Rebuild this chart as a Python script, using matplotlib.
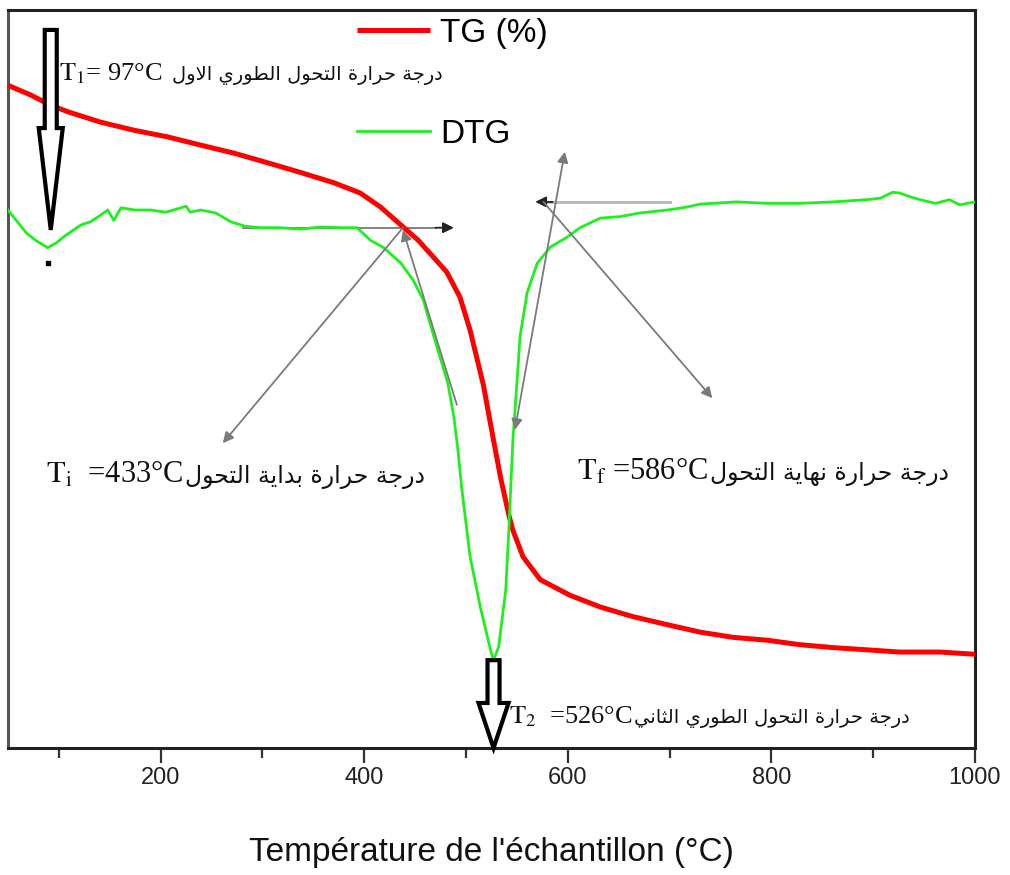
import numpy as np
import matplotlib
matplotlib.use("Agg")
import matplotlib.pyplot as plt
from matplotlib.patches import FancyArrow

plt.rcParams['mathtext.fontset'] = 'stix'

# ---- data (T in °C, curves on a 0-100 plot scale) ----
t_tg = [50, 72, 92, 109, 141, 174, 207, 239, 272, 305, 337, 370, 396, 416, 439, 453, 468, 481, 494, 504,
        517, 527, 534, 542, 546, 556, 573, 602, 632, 664, 698, 730, 762, 796, 828, 861, 894, 926, 966, 1000]
tg = [89.8, 88.5, 87.1, 86.2, 84.8, 83.7, 82.8, 81.7, 80.6, 79.3, 78.0, 76.6, 75.2, 73.3, 70.5, 68.8, 66.5,
      64.5, 61.1, 56.6, 49.2, 41.7, 36.6, 31.6, 29.5, 25.9, 22.8, 20.7, 19.1, 17.8, 16.7, 15.7, 15.0, 14.6,
      14.0, 13.6, 13.3, 13.0, 13.0, 12.7]

t_dtg = [50, 58, 68, 77, 89, 97, 107, 122, 131, 141, 148, 154, 161, 175, 190, 205, 225, 229, 239, 254,
         269, 283, 298, 318, 337, 357, 377, 393, 406, 419, 436, 448, 458, 470, 482, 488, 492, 496, 504, 514,
         524, 527, 532, 539, 542, 546, 550, 553, 560, 570, 583, 599, 612, 632, 651, 671, 698, 717, 730, 766,
         796, 828, 861, 894, 907, 919, 926, 936, 946, 961, 975, 985, 1000]
dtg = [72.9, 71.5, 69.8, 68.8, 67.8, 68.4, 69.5, 70.9, 71.3, 72.2, 72.9, 71.5, 73.2, 72.9, 72.9, 72.6, 73.4,
       72.6, 72.9, 72.5, 71.3, 70.7, 70.5, 70.5, 70.3, 70.6, 70.5, 70.5, 68.8, 67.8, 65.7, 63.4, 60.7, 55.0,
       49.5, 44.9, 40.4, 34.9, 25.9, 19.1, 13.3, 11.9, 13.7, 21.4, 29.5, 41.7, 49.5, 55.7, 61.7, 65.7, 67.9,
       69.2, 70.5, 71.8, 72.0, 72.5, 72.9, 73.3, 73.7, 74.0, 73.8, 73.8, 74.0, 74.3, 74.5, 75.3, 75.2, 74.7,
       74.3, 73.8, 74.3, 73.6, 74.0]

xticks = [200, 400, 600, 800, 1000]
xminor = [100, 300, 500, 700, 900]

T1, Ti, Tf, T2 = 97, 433, 586, 526

# ---- minimal arabic shaping (matplotlib has no bidi / joining) ----
FORMS = {  # isolated, final, initial, medial
    'ا': ('\uFE8D', '\uFE8E', None, None),
    'ب': ('\uFE8F', '\uFE90', '\uFE91', '\uFE92'),
    'ة': ('\uFE93', '\uFE94', None, None),
    'ت': ('\uFE95', '\uFE96', '\uFE97', '\uFE98'),
    'ث': ('\uFE99', '\uFE9A', '\uFE9B', '\uFE9C'),
    'ج': ('\uFE9D', '\uFE9E', '\uFE9F', '\uFEA0'),
    'ح': ('\uFEA1', '\uFEA2', '\uFEA3', '\uFEA4'),
    'د': ('\uFEA9', '\uFEAA', None, None),
    'ر': ('\uFEAD', '\uFEAE', None, None),
    'ط': ('\uFEC1', '\uFEC2', '\uFEC3', '\uFEC4'),
    'ل': ('\uFEDD', '\uFEDE', '\uFEDF', '\uFEE0'),
    'ن': ('\uFEE5', '\uFEE6', '\uFEE7', '\uFEE8'),
    'ه': ('\uFEE9', '\uFEEA', '\uFEEB', '\uFEEC'),
    'و': ('\uFEED', '\uFEEE', None, None),
    'ي': ('\uFEF1', '\uFEF2', '\uFEF3', '\uFEF4'),
    'لا': ('\uFEFB', '\uFEFC', None, None),
}


def shape_ar(s):
    toks, i = [], 0
    while i < len(s):
        if s[i] == 'ل' and i + 1 < len(s) and s[i + 1] == 'ا':
            toks.append('لا'); i += 2
        else:
            toks.append(s[i]); i += 1
    out = []
    for k, t in enumerate(toks):
        if t not in FORMS:
            out.append(t); continue
        prev = toks[k - 1] if k > 0 else None
        nxt = toks[k + 1] if k + 1 < len(toks) else None
        jp = prev in FORMS and FORMS[prev][2] is not None
        jn = nxt in FORMS and FORMS[t][2] is not None
        iso, fin, ini, med = FORMS[t]
        out.append(med if (jp and jn) else fin if jp else ini if jn else iso)
    return ''.join(out)[::-1]


fig = plt.figure(figsize=(10.1, 8.75), dpi=100)
ax = fig.add_axes([8 / 1010, 1 - 748 / 875, 967 / 1010, 738 / 875])

ax.plot(t_tg, tg, color="#ff0000", lw=3.6, solid_capstyle="butt", label="TG (%)", zorder=3)
ax.plot(t_dtg, dtg, color="#1ef01e", lw=2.0, label="DTG", zorder=3)

ax.set_xlim(50, 1000)
ax.set_ylim(0, 100)
ax.set_yticks([])
ax.set_xticks(xticks)
ax.set_xticks(xminor, minor=True)
ax.tick_params(axis="x", which="major", direction="out", length=11, width=1.6, color="#333",
               labelsize=17, pad=3, labelcolor="#222")
ax.tick_params(axis="x", which="minor", direction="out", length=7, width=1.6, color="#333")
for lab in ax.get_xticklabels():
    lab.set_family("Liberation Sans")
for side in ["top", "bottom", "right"]:
    ax.spines[side].set_linewidth(2.2)
    ax.spines[side].set_color("#222")
ax.spines["left"].set_linewidth(2.2)
ax.spines["left"].set_color("#555")
ax.set_xlabel("Température de l'échantillon (°C)", fontsize=24, family="Liberation Sans",
              labelpad=34, color="#111")

leg = ax.legend(loc="upper left", bbox_to_anchor=(340 / 1010, 1 - 1 / 875), bbox_transform=fig.transFigure,
                frameon=False, prop=dict(family="Liberation Sans", size=24), handlelength=2.2,
                handletextpad=0.3, labelspacing=2.1, borderpad=0)

# ---- construction lines (gray, thin) ----
gray = dict(color="#7a7a7a", lw=1.3)
head = dict(arrowstyle="-|>", color="#7a7a7a", lw=1.3, mutation_scale=16, shrinkA=0, shrinkB=0)
ax.plot([281, 470], [70.5, 70.5], **gray, zorder=2)
ax.annotate("", xy=(488, 70.5), xytext=(470, 70.5), arrowprops=dict(head, color="#222"))
ax.annotate("", xy=(261, 41.3), xytext=(438, 70.5), arrowprops=dict(head))
ax.annotate("", xy=(438, 70.2), xytext=(491, 46.5), arrowprops=dict(head))
ax.plot([580, 700], [74.0, 74.0], color="#b5b5b5", lw=2.0, zorder=2)
ax.annotate("", xy=(568, 74.0), xytext=(585, 74.0), arrowprops=dict(head, color="#222"))
ax.annotate("", xy=(742, 47.4), xytext=(576, 74.0), arrowprops=dict(head))
ax.annotate("", xy=(597, 80.8), xytext=(548, 43.1),
            arrowprops=dict(head, arrowstyle="<|-|>"))

# ---- big hollow arrows ----
ax.add_patch(FancyArrow(92, 97.3, 0, -27.1, width=11.8, head_width=23.6, head_length=13.8,
                        length_includes_head=True, fc="white", ec="black", lw=3, zorder=5,
                        clip_on=False))
ax.add_patch(FancyArrow(527, 11.9, 0, -11.9, width=11.8, head_width=29.5, head_length=6.1,
                        length_includes_head=True, fc="white", ec="black", lw=3, zorder=5,
                        clip_on=False))
ax.plot([89], [65.7], "s", color="black", ms=3)

# ---- labels ----
lat = dict(family="Liberation Serif", color="#111", va="baseline", ha="right")
arb = dict(family="DejaVu Sans", color="#111", va="baseline", ha="left")


def label(px_split, py, latin, arab, size, asize, gap=2):
    fig.text(px_split / 1010, 1 - py / 875, latin, fontsize=size, **lat)
    fig.text((px_split + gap) / 1010, 1 - py / 875, shape_ar(arab), fontsize=asize, **arb)


label(162, 80, r"$\mathrm{T_1}$= %d°C" % T1, "درجة حرارة التحول الطوري الاول", 19, 14, gap=10)
label(183, 483, r"$\mathrm{T_i}$  =%d°C" % Ti, "درجة حرارة بداية التحول", 22, 17)
label(708, 480, r"$\mathrm{T_f}$ =%d°C" % Tf, "درجة حرارة نهاية التحول", 22, 17)
label(632, 723, r"$\mathrm{T_2}$  =%d°C" % T2, "درجة حرارة التحول الطوري الثاني", 19, 14)

fig.savefig("out.png", dpi=100)
